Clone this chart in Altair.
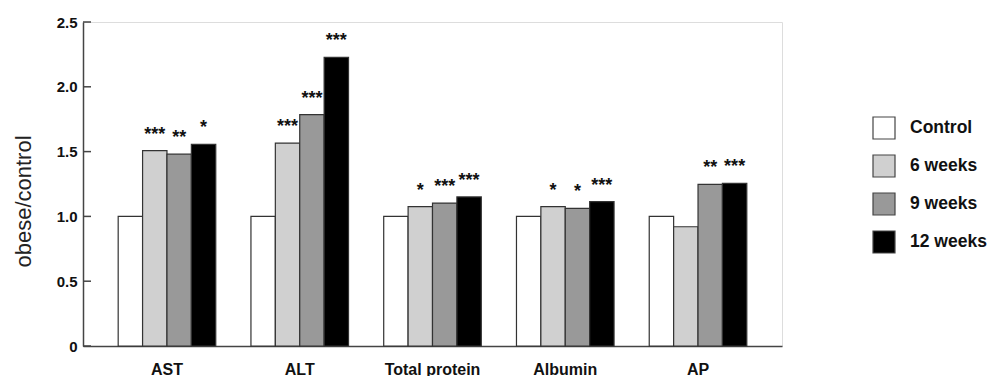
import altair as alt
import pandas as pd

categories = ["AST", "ALT", "Total protein", "Albumin", "AP"]
groups = ["Control", "6 weeks", "9 weeks", "12 weeks"]
control = [1.0, 1.0, 1.0, 1.0, 1.0]
w6 = [1.507, 1.566, 1.075, 1.075, 0.92]
w9 = [1.48, 1.785, 1.103, 1.062, 1.247]
w12 = [1.556, 2.227, 1.15, 1.114, 1.255]
sig_control = ["", "", "", "", ""]
sig6 = ["***", "***", "*", "*", ""]
sig9 = ["**", "***", "***", "*", "**"]
sig12 = ["*", "***", "***", "***", "***"]
colors = ["#ffffff", "#d0d0d0", "#999999", "#000000"]
y_ticks = [0, 0.5, 1.0, 1.5, 2.0, 2.5]

rows = []
for g, vals, sigs in zip(groups, [control, w6, w9, w12], [sig_control, sig6, sig9, sig12]):
    for c, v, s in zip(categories, vals, sigs):
        rows.append({"cat": c, "group": g, "value": v, "sig": s})
df = pd.DataFrame(rows)
tick_df = pd.DataFrame({"t": y_ticks})

FONT = "Liberation Sans"

x_enc = alt.X("cat:N", sort=categories,
              scale=alt.Scale(paddingInner=0.265, paddingOuter=0.265),
              axis=alt.Axis(title=None, labelAngle=0, labelFont=FONT, labelFontSize=16,
                            labelFontWeight="bold", labelColor="#111", ticks=False,
                            labelPadding=15, domainColor="#444", domainWidth=1.5))
xo_enc = alt.XOffset("group:N", sort=groups, scale=alt.Scale(paddingInner=0, paddingOuter=0))
y_scale = alt.Scale(domain=[0, 2.5], nice=False)

bars = alt.Chart(df).mark_bar(stroke="#333", strokeWidth=1.2).encode(
    x=x_enc,
    xOffset=xo_enc,
    y=alt.Y("value:Q", scale=y_scale,
            axis=alt.Axis(title="obese/control", values=y_ticks, ticks=False, grid=False,
                          labelExpr="datum.value == 0 ? '0' : format(datum.value, '.1f')",
                          labelFont=FONT, labelFontSize=15, labelFontWeight="bold",
                          labelColor="#111", labelPadding=6, domainColor="#444", domainWidth=1.5,
                          titleFont=FONT, titleFontSize=22, titleFontWeight="normal",
                          titleColor="#222", titleX=-60, titleY=179, titleBaseline="middle",
                          titleAngle=-90)),
    color=alt.Color("group:N", sort=groups, scale=alt.Scale(domain=groups, range=colors),
                    legend=alt.Legend(title=None, orient="none", legendX=789, legendY=94,
                                      symbolType="square", symbolSize=484,
                                      symbolStrokeColor="#444", symbolStrokeWidth=1.2,
                                      labelFont=FONT, labelFontSize=17.5, labelFontWeight="bold",
                                      labelColor="#111", labelOffset=14, rowPadding=10,
                                      padding=0)),
)

stars = alt.Chart(df).mark_text(font=FONT, fontSize=18, fontWeight="bold", baseline="bottom",
                                dy=-7, color="#111").encode(
    x=alt.X("cat:N", sort=categories),
    xOffset=alt.XOffset("group:N", sort=groups),
    y=alt.Y("value:Q", scale=y_scale),
    text="sig:N",
)

ticks = alt.Chart(tick_df).mark_rule(color="#444", strokeWidth=1.5).encode(
    y=alt.Y("t:Q", scale=y_scale),
    x=alt.value(0),
    x2=alt.value(8),
)

chart = alt.layer(bars, stars, ticks).properties(
    width=699, height=324, autosize="none",
    padding={"left": 75, "top": 14, "right": 205, "bottom": 30},
).configure_view(stroke=None).configure(background="white")

chart.save("out.html", embed_options={"renderer": "svg", "actions": False})
